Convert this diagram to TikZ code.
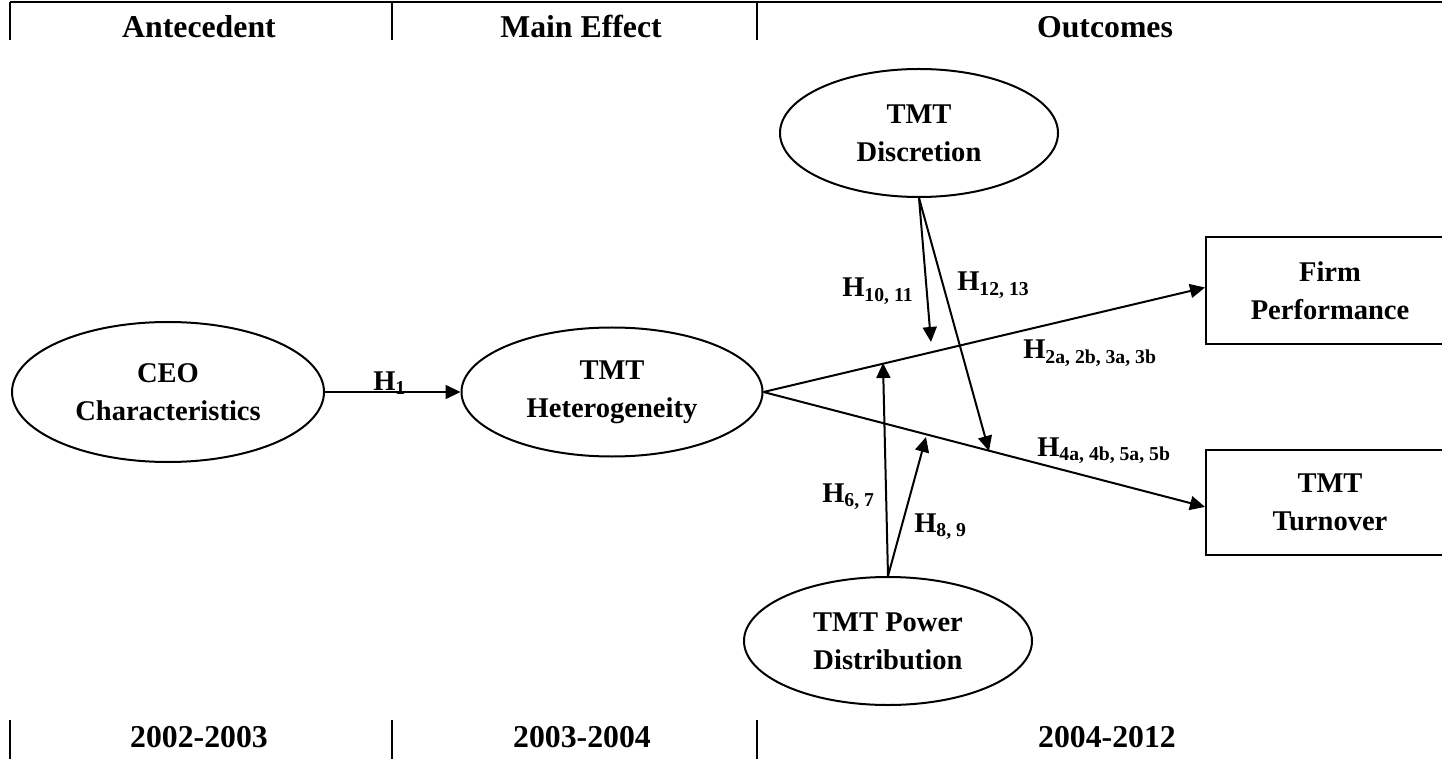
\documentclass[tikz,border=0pt]{standalone}
\usepackage{fontspec}
\setmainfont{Liberation Serif}
\usetikzlibrary{shapes.geometric,arrows.meta}

\newcommand{\bigbf}{\fontsize{20.3}{27}\selectfont\bfseries}
\newcommand{\headbf}{\fontsize{22.6}{27}\selectfont\bfseries}
\newcommand{\hsub}[1]{H\raisebox{-1.1mm}{\fontsize{14}{14}\selectfont #1}}

\tikzstyle{construct} = [ellipse, draw, line width=0.5mm, align=center, inner sep=0pt, font=\bigbf]
\tikzstyle{outcome} = [rectangle, draw, line width=0.5mm, align=center, inner sep=0pt, minimum width=62mm, font=\bigbf]
\tikzstyle{hyp} = [anchor=base west, inner sep=0pt, font=\bigbf]
\tikzstyle{period} = [anchor=base, inner sep=0pt, font=\headbf]
\tikzstyle{link} = [line width=0.5mm, -{Triangle[length=3.75mm,width=3.5mm]}]

\begin{document}
\begin{tikzpicture}[x=0.25mm, y=-0.25mm]
\useasboundingbox (0,0) rectangle (1442,759);

\draw[line width=0.6mm] (10,2) -- (1442,2);
\foreach \x in {10,392,757} {
    \draw[line width=0.45mm] (\x,2) -- (\x,40);
    \draw[line width=0.45mm] (\x,720) -- (\x,759);
}
\node[period] (ante) at (199,38) {Antecedent};
\node[period] (main) at (581,38) {Main Effect};
\node[period] (outc) at (1105,38) {Outcomes};
\node[period] (y1) at (199,747) {2002-2003};
\node[period] (y2) at (582,747) {2003-2004};
\node[period] (y3) at (1107,747) {2004-2012};

\node[construct, minimum width=78mm, minimum height=35mm] (ceo) at (168,392) {CEO\\Characteristics};
\node[construct, minimum width=75.25mm, minimum height=32.25mm] (het) at (612,392) {TMT\\Heterogeneity};
\node[construct, minimum width=69.5mm, minimum height=32mm] (disc) at (919,133) {TMT\\Discretion};
\node[construct, minimum width=72mm, minimum height=32mm] (pow) at (888,641) {TMT Power\\Distribution};
\node[outcome, minimum height=26.75mm] (perf) at (1330,290.5) {Firm\\Performance};
\node[outcome, minimum height=26.25mm] (turn) at (1330,502.5) {TMT\\Turnover};

\coordinate (m1) at (931,342);
\coordinate (m2) at (989,451);
\coordinate (m3) at (883,363);
\coordinate (m4) at (926,437);

\draw[link] (ceo.east) -- (het.west);
\draw[link] (het.east) -- ([yshift=0.75mm]perf.west);
\draw[link] (het.east) -- ([yshift=-1.1mm]turn.west);
\draw[link] (disc.south) -- (m1);
\draw[link] (disc.south) -- (m2);
\draw[link] (pow.north) -- (m3);
\draw[link] (pow.north) -- (m4);

\node[hyp] (h1) at (373,390) {\hsub{1}};
\node[hyp] (h10) at (842,297) {\hsub{10, 11}};
\node[hyp] (h12) at (957,291) {\hsub{12, 13}};
\node[hyp] (h2) at (1023,359) {\hsub{2a, 2b, 3a, 3b}};
\node[hyp] (h4) at (1037,456) {\hsub{4a, 4b, 5a, 5b}};
\node[hyp] (h6) at (822,502) {\hsub{6, 7}};
\node[hyp] (h8) at (914,532) {\hsub{8, 9}};
\end{tikzpicture}
\end{document}
